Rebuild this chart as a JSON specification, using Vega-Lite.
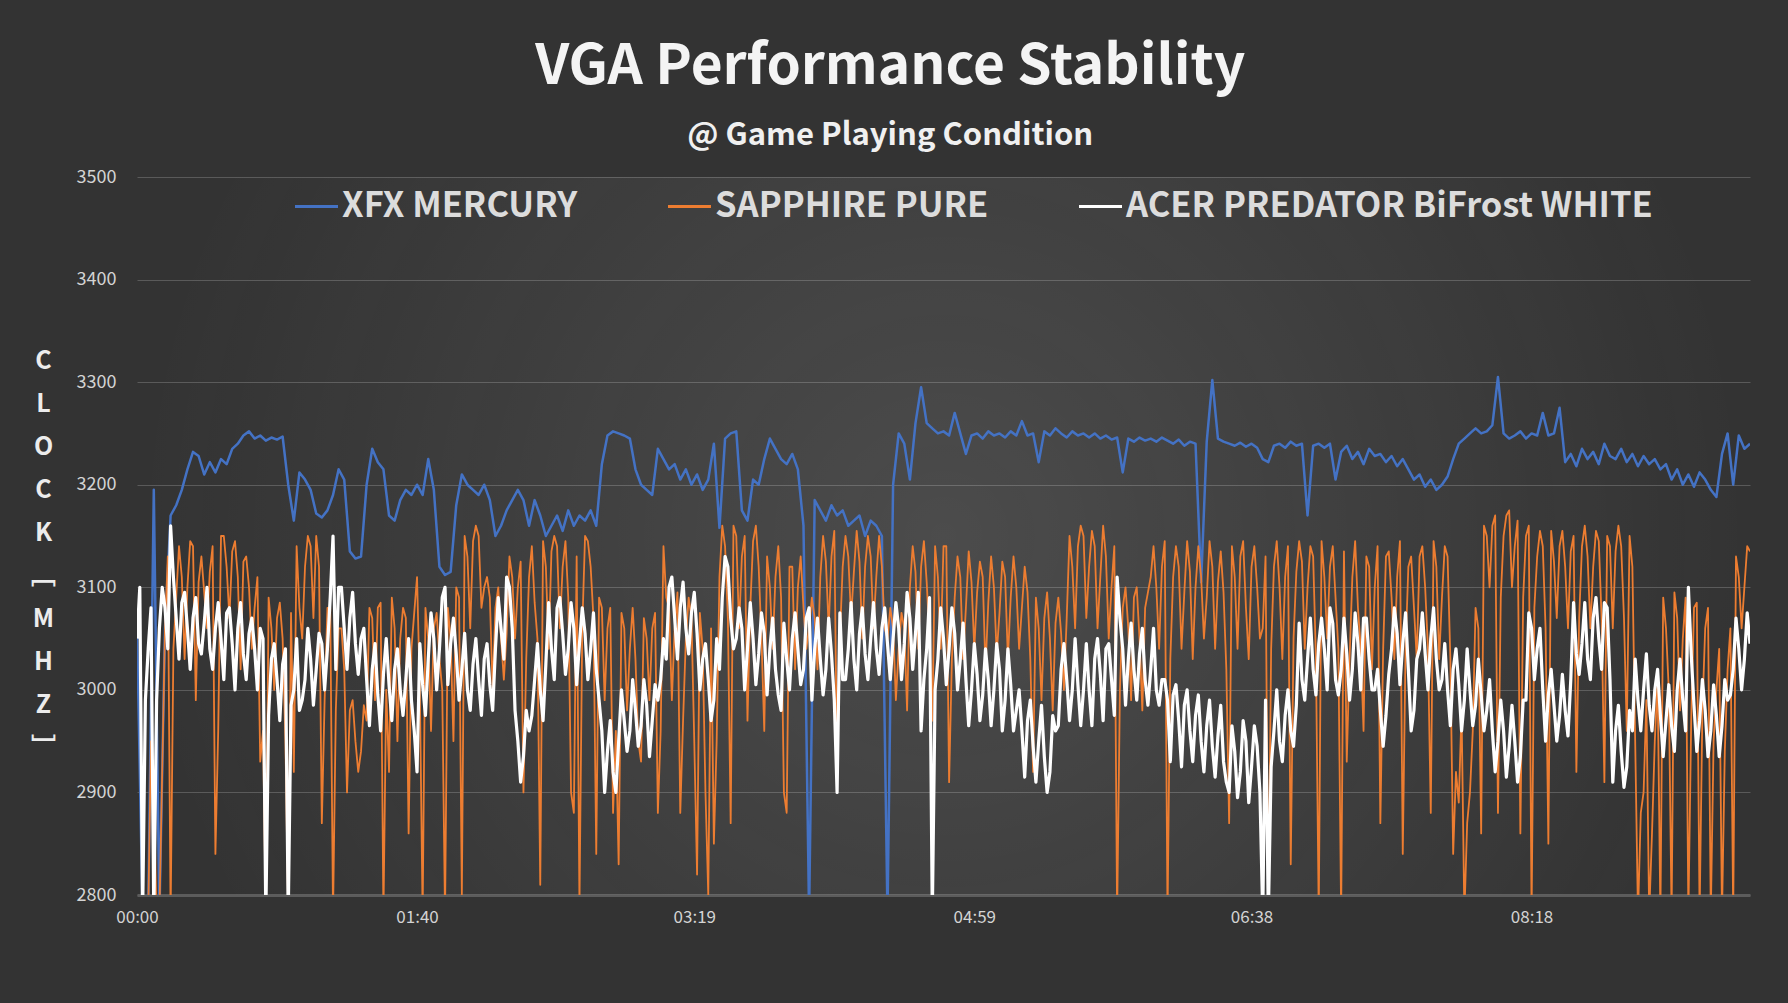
{
  "$schema": "https://vega.github.io/schema/vega-lite/v6.json",
  "width": 1613,
  "height": 718,
  "autosize": "none",
  "padding": {"left": 137, "top": 177, "right": 38, "bottom": 108},
  "background": "#333333",
  "title": {
    "text": "VGA Performance Stability",
    "subtitle": "@ Game Playing Condition",
    "anchor": "middle",
    "frame": "bounds",
    "font": "Noto Sans CJK KR",
    "fontSize": 55,
    "fontWeight": "bold",
    "color": "#f4f4f4",
    "subtitleFont": "Noto Sans CJK KR",
    "subtitleFontSize": 31,
    "subtitleFontWeight": "bold",
    "subtitleColor": "#f0f0f0",
    "subtitlePadding": 25,
    "offset": 16
  },
  "datasets": {
    "clock": [
      {"t":0,"xfx":3060,"sap":2780,"acer":3050},
      {"t":2,"xfx":2780,"sap":2780,"acer":2780},
      {"t":4,"xfx":2780,"sap":2780,"acer":3040},
      {"t":6,"xfx":3195,"sap":2900,"acer":2780},
      {"t":8,"xfx":2780,"sap":2780,"acer":3060},
      {"t":10,"xfx":3060,"sap":3060,"acer":3080},
      {"t":12,"xfx":3170,"sap":2780,"acer":3160},
      {"t":14,"xfx":3180,"sap":3090,"acer":3070},
      {"t":16,"xfx":3195,"sap":3110,"acer":3085},
      {"t":18,"xfx":3215,"sap":3100,"acer":3060},
      {"t":20,"xfx":3232,"sap":3140,"acer":3070},
      {"t":22,"xfx":3228,"sap":3105,"acer":3045},
      {"t":24,"xfx":3210,"sap":3095,"acer":3065},
      {"t":26,"xfx":3222,"sap":3115,"acer":3040},
      {"t":28,"xfx":3212,"sap":2840,"acer":3060},
      {"t":30,"xfx":3225,"sap":3150,"acer":3050},
      {"t":32,"xfx":3220,"sap":3120,"acer":3075},
      {"t":34,"xfx":3235,"sap":3135,"acer":3045},
      {"t":36,"xfx":3240,"sap":3110,"acer":3060},
      {"t":38,"xfx":3248,"sap":3125,"acer":3035},
      {"t":40,"xfx":3252,"sap":3100,"acer":3055},
      {"t":42,"xfx":3245,"sap":3080,"acer":3040},
      {"t":44,"xfx":3248,"sap":2930,"acer":3060},
      {"t":46,"xfx":3243,"sap":2780,"acer":2780},
      {"t":48,"xfx":3246,"sap":3060,"acer":3030},
      {"t":50,"xfx":3244,"sap":3070,"acer":3010},
      {"t":52,"xfx":3247,"sap":3050,"acer":3025},
      {"t":54,"xfx":3200,"sap":2780,"acer":2780},
      {"t":56,"xfx":3165,"sap":2920,"acer":3000},
      {"t":58,"xfx":3212,"sap":3080,"acer":2980},
      {"t":60,"xfx":3205,"sap":3120,"acer":3010},
      {"t":62,"xfx":3195,"sap":3140,"acer":3030},
      {"t":64,"xfx":3172,"sap":3150,"acer":3020},
      {"t":66,"xfx":3168,"sap":2870,"acer":3045},
      {"t":68,"xfx":3175,"sap":3080,"acer":3040},
      {"t":70,"xfx":3190,"sap":2780,"acer":3150},
      {"t":72,"xfx":3215,"sap":3060,"acer":3100},
      {"t":74,"xfx":3205,"sap":3020,"acer":3060},
      {"t":76,"xfx":3135,"sap":2980,"acer":3070},
      {"t":78,"xfx":3128,"sap":2950,"acer":3045},
      {"t":80,"xfx":3130,"sap":2940,"acer":3050},
      {"t":82,"xfx":3200,"sap":2970,"acer":3010},
      {"t":84,"xfx":3235,"sap":3070,"acer":3020},
      {"t":86,"xfx":3222,"sap":3080,"acer":2995},
      {"t":88,"xfx":3215,"sap":2780,"acer":3015},
      {"t":90,"xfx":3170,"sap":2920,"acer":3005},
      {"t":92,"xfx":3165,"sap":3060,"acer":3020},
      {"t":94,"xfx":3185,"sap":3050,"acer":3000},
      {"t":96,"xfx":3195,"sap":3070,"acer":3010},
      {"t":98,"xfx":3190,"sap":3040,"acer":2990},
      {"t":100,"xfx":3200,"sap":3110,"acer":2920},
      {"t":102,"xfx":3190,"sap":2780,"acer":3005},
      {"t":104,"xfx":3225,"sap":3050,"acer":3030},
      {"t":106,"xfx":3195,"sap":3060,"acer":3050},
      {"t":108,"xfx":3120,"sap":3030,"acer":3040},
      {"t":110,"xfx":3112,"sap":2780,"acer":3100},
      {"t":112,"xfx":3115,"sap":3050,"acer":3045},
      {"t":114,"xfx":3180,"sap":3100,"acer":3035},
      {"t":116,"xfx":3210,"sap":2800,"acer":3020},
      {"t":118,"xfx":3200,"sap":3130,"acer":3000},
      {"t":120,"xfx":3195,"sap":3145,"acer":3025},
      {"t":122,"xfx":3190,"sap":3150,"acer":3010},
      {"t":124,"xfx":3200,"sap":3100,"acer":3030},
      {"t":126,"xfx":3185,"sap":3090,"acer":3005},
      {"t":128,"xfx":3150,"sap":3080,"acer":3040},
      {"t":130,"xfx":3160,"sap":3050,"acer":3060},
      {"t":132,"xfx":3175,"sap":3055,"acer":3110},
      {"t":134,"xfx":3185,"sap":3110,"acer":3060},
      {"t":136,"xfx":3195,"sap":3100,"acer":2950},
      {"t":138,"xfx":3185,"sap":2900,"acer":2935},
      {"t":140,"xfx":3160,"sap":3110,"acer":2960},
      {"t":142,"xfx":3185,"sap":3085,"acer":3010},
      {"t":144,"xfx":3170,"sap":2810,"acer":3000},
      {"t":146,"xfx":3150,"sap":3120,"acer":3025},
      {"t":148,"xfx":3160,"sap":3135,"acer":3040},
      {"t":150,"xfx":3170,"sap":3140,"acer":3080},
      {"t":152,"xfx":3155,"sap":3120,"acer":3055},
      {"t":154,"xfx":3175,"sap":3090,"acer":3040},
      {"t":156,"xfx":3160,"sap":2880,"acer":3060},
      {"t":158,"xfx":3170,"sap":2790,"acer":3045},
      {"t":160,"xfx":3165,"sap":3150,"acer":3055},
      {"t":162,"xfx":3175,"sap":3120,"acer":3040},
      {"t":164,"xfx":3160,"sap":2840,"acer":3020},
      {"t":166,"xfx":3220,"sap":3080,"acer":2960},
      {"t":168,"xfx":3248,"sap":3060,"acer":2940},
      {"t":170,"xfx":3252,"sap":2880,"acer":2920},
      {"t":172,"xfx":3250,"sap":2830,"acer":2950},
      {"t":174,"xfx":3248,"sap":3060,"acer":2970},
      {"t":176,"xfx":3245,"sap":3040,"acer":2960},
      {"t":178,"xfx":3215,"sap":3030,"acer":2980},
      {"t":180,"xfx":3200,"sap":2930,"acer":2965},
      {"t":182,"xfx":3195,"sap":3050,"acer":2985},
      {"t":184,"xfx":3190,"sap":3060,"acer":2970},
      {"t":186,"xfx":3235,"sap":2880,"acer":2990},
      {"t":188,"xfx":3225,"sap":3140,"acer":3050},
      {"t":190,"xfx":3215,"sap":3080,"acer":3100},
      {"t":192,"xfx":3220,"sap":3060,"acer":3070},
      {"t":194,"xfx":3205,"sap":2880,"acer":3080},
      {"t":196,"xfx":3215,"sap":3050,"acer":3060},
      {"t":198,"xfx":3200,"sap":3070,"acer":3075},
      {"t":200,"xfx":3210,"sap":2820,"acer":3055},
      {"t":202,"xfx":3195,"sap":3040,"acer":3030},
      {"t":204,"xfx":3205,"sap":2800,"acer":3010},
      {"t":206,"xfx":3240,"sap":2850,"acer":2990},
      {"t":208,"xfx":3158,"sap":3110,"acer":3020},
      {"t":210,"xfx":3245,"sap":3140,"acer":3130},
      {"t":212,"xfx":3250,"sap":2870,"acer":3070},
      {"t":214,"xfx":3252,"sap":3150,"acer":3050},
      {"t":216,"xfx":3175,"sap":3130,"acer":3060},
      {"t":218,"xfx":3165,"sap":2970,"acer":3040},
      {"t":220,"xfx":3205,"sap":3145,"acer":3050},
      {"t":222,"xfx":3200,"sap":3120,"acer":3035},
      {"t":224,"xfx":3225,"sap":2960,"acer":3055},
      {"t":226,"xfx":3245,"sap":3100,"acer":3040},
      {"t":228,"xfx":3235,"sap":3110,"acer":3020},
      {"t":230,"xfx":3225,"sap":3090,"acer":2980},
      {"t":232,"xfx":3220,"sap":2880,"acer":3030},
      {"t":234,"xfx":3230,"sap":3120,"acer":3050},
      {"t":236,"xfx":3215,"sap":3100,"acer":3040},
      {"t":238,"xfx":3160,"sap":3080,"acer":3020},
      {"t":240,"xfx":2780,"sap":3060,"acer":3080},
      {"t":242,"xfx":3185,"sap":3070,"acer":3040},
      {"t":244,"xfx":3175,"sap":3110,"acer":3030},
      {"t":246,"xfx":3165,"sap":3125,"acer":3020},
      {"t":248,"xfx":3180,"sap":3130,"acer":3035},
      {"t":250,"xfx":3170,"sap":2920,"acer":2900},
      {"t":252,"xfx":3175,"sap":3120,"acer":3010},
      {"t":254,"xfx":3160,"sap":3130,"acer":3040},
      {"t":256,"xfx":3165,"sap":3115,"acer":3030},
      {"t":258,"xfx":3170,"sap":3125,"acer":3055},
      {"t":260,"xfx":3150,"sap":3120,"acer":3035},
      {"t":262,"xfx":3165,"sap":3130,"acer":3050},
      {"t":264,"xfx":3160,"sap":3110,"acer":3040},
      {"t":266,"xfx":3150,"sap":3120,"acer":3060},
      {"t":268,"xfx":2780,"sap":3050,"acer":3045},
      {"t":270,"xfx":3200,"sap":3060,"acer":3050},
      {"t":272,"xfx":3250,"sap":3040,"acer":3060},
      {"t":274,"xfx":3240,"sap":3060,"acer":3045},
      {"t":276,"xfx":3205,"sap":3100,"acer":3070},
      {"t":278,"xfx":3260,"sap":3115,"acer":3055},
      {"t":280,"xfx":3295,"sap":3120,"acer":2960},
      {"t":282,"xfx":3260,"sap":3105,"acer":3040},
      {"t":284,"xfx":3255,"sap":2970,"acer":2780},
      {"t":286,"xfx":3250,"sap":3110,"acer":3030},
      {"t":288,"xfx":3252,"sap":3140,"acer":3050},
      {"t":290,"xfx":3248,"sap":2910,"acer":3040},
      {"t":292,"xfx":3270,"sap":3090,"acer":3055},
      {"t":294,"xfx":3250,"sap":3110,"acer":3030},
      {"t":296,"xfx":3230,"sap":3080,"acer":3010},
      {"t":298,"xfx":3248,"sap":3105,"acer":3000},
      {"t":300,"xfx":3250,"sap":3095,"acer":3015},
      {"t":302,"xfx":3245,"sap":3110,"acer":2995},
      {"t":304,"xfx":3252,"sap":3085,"acer":3010},
      {"t":306,"xfx":3248,"sap":3100,"acer":3000},
      {"t":308,"xfx":3250,"sap":3075,"acer":3020},
      {"t":310,"xfx":3246,"sap":3110,"acer":2990},
      {"t":312,"xfx":3252,"sap":3090,"acer":3005},
      {"t":314,"xfx":3248,"sap":3100,"acer":2980},
      {"t":316,"xfx":3262,"sap":3080,"acer":2960},
      {"t":318,"xfx":3248,"sap":3095,"acer":2970},
      {"t":320,"xfx":3250,"sap":2920,"acer":2945},
      {"t":322,"xfx":3222,"sap":3060,"acer":2950},
      {"t":324,"xfx":3252,"sap":3070,"acer":2935},
      {"t":326,"xfx":3248,"sap":3050,"acer":2920},
      {"t":328,"xfx":3255,"sap":3065,"acer":2960},
      {"t":330,"xfx":3250,"sap":3055,"acer":3020},
      {"t":332,"xfx":3246,"sap":3070,"acer":3010},
      {"t":334,"xfx":3252,"sap":3120,"acer":3000},
      {"t":336,"xfx":3248,"sap":3140,"acer":3005},
      {"t":338,"xfx":3250,"sap":3150,"acer":3000},
      {"t":340,"xfx":3246,"sap":3120,"acer":3000},
      {"t":342,"xfx":3250,"sap":3140,"acer":3030},
      {"t":344,"xfx":3245,"sap":3110,"acer":3015},
      {"t":346,"xfx":3248,"sap":3130,"acer":3040},
      {"t":348,"xfx":3244,"sap":3100,"acer":3010},
      {"t":350,"xfx":3246,"sap":2780,"acer":3110},
      {"t":352,"xfx":3212,"sap":3080,"acer":3040},
      {"t":354,"xfx":3245,"sap":3060,"acer":3030},
      {"t":356,"xfx":3242,"sap":3090,"acer":3020},
      {"t":358,"xfx":3246,"sap":3050,"acer":3035},
      {"t":360,"xfx":3243,"sap":3080,"acer":3010},
      {"t":362,"xfx":3245,"sap":3110,"acer":3020},
      {"t":364,"xfx":3242,"sap":3100,"acer":3000},
      {"t":366,"xfx":3246,"sap":3120,"acer":3010},
      {"t":368,"xfx":3243,"sap":2780,"acer":2990},
      {"t":370,"xfx":3240,"sap":3110,"acer":2995},
      {"t":372,"xfx":3244,"sap":3120,"acer":2970},
      {"t":374,"xfx":3238,"sap":3095,"acer":2985},
      {"t":376,"xfx":3242,"sap":3115,"acer":2960},
      {"t":378,"xfx":3240,"sap":3100,"acer":2975},
      {"t":380,"xfx":3105,"sap":3110,"acer":2950},
      {"t":382,"xfx":3242,"sap":3090,"acer":2965},
      {"t":384,"xfx":3302,"sap":3120,"acer":2945},
      {"t":386,"xfx":3245,"sap":3105,"acer":2955},
      {"t":388,"xfx":3242,"sap":3095,"acer":2930},
      {"t":390,"xfx":3240,"sap":2870,"acer":2900},
      {"t":392,"xfx":3238,"sap":3110,"acer":2940},
      {"t":394,"xfx":3241,"sap":3130,"acer":2920},
      {"t":396,"xfx":3237,"sap":3080,"acer":2950},
      {"t":398,"xfx":3240,"sap":3120,"acer":2925},
      {"t":400,"xfx":3236,"sap":3100,"acer":2945},
      {"t":402,"xfx":3225,"sap":3060,"acer":2780},
      {"t":404,"xfx":3222,"sap":2780,"acer":2780},
      {"t":406,"xfx":3238,"sap":3120,"acer":2960},
      {"t":408,"xfx":3240,"sap":3100,"acer":2950},
      {"t":410,"xfx":3236,"sap":3110,"acer":2975},
      {"t":412,"xfx":3242,"sap":2830,"acer":2960},
      {"t":414,"xfx":3238,"sap":3115,"acer":2985},
      {"t":416,"xfx":3240,"sap":3125,"acer":3010},
      {"t":418,"xfx":3170,"sap":3100,"acer":3030},
      {"t":420,"xfx":3238,"sap":3130,"acer":3020},
      {"t":422,"xfx":3240,"sap":2780,"acer":3045},
      {"t":424,"xfx":3236,"sap":3110,"acer":3040},
      {"t":426,"xfx":3240,"sap":3120,"acer":3080},
      {"t":428,"xfx":3205,"sap":3090,"acer":3010},
      {"t":430,"xfx":3232,"sap":2780,"acer":3020},
      {"t":432,"xfx":3238,"sap":2930,"acer":3035},
      {"t":434,"xfx":3225,"sap":3110,"acer":3020},
      {"t":436,"xfx":3232,"sap":3080,"acer":3045},
      {"t":438,"xfx":3220,"sap":2960,"acer":3070},
      {"t":440,"xfx":3235,"sap":3120,"acer":3030},
      {"t":442,"xfx":3228,"sap":3100,"acer":3000},
      {"t":444,"xfx":3230,"sap":2870,"acer":2980},
      {"t":446,"xfx":3222,"sap":3130,"acer":2975},
      {"t":448,"xfx":3228,"sap":3090,"acer":3040},
      {"t":450,"xfx":3218,"sap":3110,"acer":3055},
      {"t":452,"xfx":3225,"sap":2840,"acer":3045},
      {"t":454,"xfx":3215,"sap":3120,"acer":3020},
      {"t":456,"xfx":3205,"sap":3080,"acer":2980},
      {"t":458,"xfx":3210,"sap":3130,"acer":3040},
      {"t":460,"xfx":3198,"sap":3100,"acer":3035},
      {"t":462,"xfx":3205,"sap":2880,"acer":3050},
      {"t":464,"xfx":3195,"sap":3120,"acer":3030},
      {"t":466,"xfx":3200,"sap":3090,"acer":3010},
      {"t":468,"xfx":3208,"sap":3130,"acer":3000},
      {"t":470,"xfx":3225,"sap":2840,"acer":3020},
      {"t":472,"xfx":3240,"sap":2890,"acer":3005},
      {"t":474,"xfx":3245,"sap":2780,"acer":2990},
      {"t":476,"xfx":3250,"sap":2900,"acer":3000},
      {"t":478,"xfx":3255,"sap":3080,"acer":2985},
      {"t":480,"xfx":3250,"sap":2860,"acer":2995},
      {"t":482,"xfx":3252,"sap":3150,"acer":2980},
      {"t":484,"xfx":3258,"sap":3160,"acer":2960},
      {"t":486,"xfx":3305,"sap":2880,"acer":2950},
      {"t":488,"xfx":3250,"sap":3150,"acer":2960},
      {"t":490,"xfx":3245,"sap":3175,"acer":2945},
      {"t":492,"xfx":3248,"sap":3140,"acer":2950},
      {"t":494,"xfx":3252,"sap":2860,"acer":2935},
      {"t":496,"xfx":3245,"sap":3150,"acer":2990},
      {"t":498,"xfx":3250,"sap":2780,"acer":3060},
      {"t":500,"xfx":3248,"sap":3130,"acer":3040},
      {"t":502,"xfx":3270,"sap":3140,"acer":3000},
      {"t":504,"xfx":3248,"sap":2850,"acer":2995},
      {"t":506,"xfx":3250,"sap":3125,"acer":2985},
      {"t":508,"xfx":3275,"sap":3140,"acer":2975},
      {"t":510,"xfx":3222,"sap":3120,"acer":2980},
      {"t":512,"xfx":3230,"sap":3135,"acer":3010},
      {"t":514,"xfx":3218,"sap":2920,"acer":3035},
      {"t":516,"xfx":3235,"sap":3140,"acer":3045},
      {"t":518,"xfx":3225,"sap":3130,"acer":3030},
      {"t":520,"xfx":3232,"sap":3120,"acer":3070},
      {"t":522,"xfx":3220,"sap":3145,"acer":3050},
      {"t":524,"xfx":3240,"sap":2910,"acer":3085},
      {"t":526,"xfx":3228,"sap":3140,"acer":3010},
      {"t":528,"xfx":3225,"sap":3135,"acer":2960},
      {"t":530,"xfx":3235,"sap":3140,"acer":2940},
      {"t":532,"xfx":3222,"sap":2960,"acer":2925},
      {"t":534,"xfx":3230,"sap":3120,"acer":2960},
      {"t":536,"xfx":3218,"sap":2780,"acer":2990},
      {"t":538,"xfx":3228,"sap":2900,"acer":3000},
      {"t":540,"xfx":3220,"sap":2780,"acer":2985},
      {"t":542,"xfx":3225,"sap":2950,"acer":3000},
      {"t":544,"xfx":3215,"sap":2780,"acer":2975},
      {"t":546,"xfx":3220,"sap":3060,"acer":2970},
      {"t":548,"xfx":3205,"sap":2780,"acer":2965},
      {"t":550,"xfx":3215,"sap":3070,"acer":3000},
      {"t":552,"xfx":3200,"sap":3050,"acer":2990},
      {"t":554,"xfx":3210,"sap":2780,"acer":3100},
      {"t":556,"xfx":3198,"sap":3080,"acer":2985},
      {"t":558,"xfx":3212,"sap":2780,"acer":2970},
      {"t":560,"xfx":3205,"sap":3060,"acer":2980},
      {"t":562,"xfx":3195,"sap":2780,"acer":2960},
      {"t":564,"xfx":3188,"sap":3000,"acer":2975},
      {"t":566,"xfx":3230,"sap":2780,"acer":2965},
      {"t":568,"xfx":3250,"sap":3020,"acer":2990},
      {"t":570,"xfx":3200,"sap":2780,"acer":3020},
      {"t":572,"xfx":3248,"sap":3110,"acer":3040},
      {"t":574,"xfx":3235,"sap":3100,"acer":3030},
      {"t":576,"xfx":3240,"sap":3135,"acer":3045},
      {"t":1,"sap":2780,"acer":3100},
      {"t":3,"sap":2780,"acer":2990},
      {"t":5,"sap":2950,"acer":3080},
      {"t":7,"sap":2780,"acer":2990},
      {"t":9,"sap":2920,"acer":3100},
      {"t":11,"sap":3130,"acer":3040},
      {"t":13,"sap":3040,"acer":3110},
      {"t":15,"sap":3140,"acer":3030},
      {"t":17,"sap":3030,"acer":3095},
      {"t":19,"sap":3145,"acer":3020},
      {"t":21,"sap":2990,"acer":3090},
      {"t":23,"sap":3130,"acer":3035},
      {"t":25,"sap":3060,"acer":3100},
      {"t":27,"sap":3140,"acer":3020},
      {"t":29,"sap":2960,"acer":3085},
      {"t":31,"sap":3150,"acer":3010},
      {"t":33,"sap":3070,"acer":3080},
      {"t":35,"sap":3145,"acer":3000},
      {"t":37,"sap":3020,"acer":3085},
      {"t":39,"sap":3130,"acer":3010},
      {"t":41,"sap":3040,"acer":3070},
      {"t":43,"sap":3110,"acer":3000},
      {"t":45,"sap":2960,"acer":3050},
      {"t":47,"sap":3090,"acer":2975},
      {"t":49,"sap":3000,"acer":3045},
      {"t":51,"sap":3085,"acer":2970},
      {"t":53,"sap":2950,"acer":3040},
      {"t":55,"sap":3075,"acer":2985},
      {"t":57,"sap":3140,"acer":3050},
      {"t":59,"sap":3050,"acer":2990},
      {"t":61,"sap":3150,"acer":3060},
      {"t":63,"sap":3070,"acer":2985},
      {"t":65,"sap":3120,"acer":3055},
      {"t":67,"sap":2990,"acer":3000},
      {"t":69,"sap":3080,"acer":3090},
      {"t":71,"sap":2980,"acer":3020},
      {"t":73,"sap":3060,"acer":3100},
      {"t":75,"sap":2900,"acer":3020},
      {"t":77,"sap":2990,"acer":3095},
      {"t":79,"sap":2920,"acer":3015},
      {"t":81,"sap":2985,"acer":3060},
      {"t":83,"sap":3080,"acer":2965},
      {"t":85,"sap":2990,"acer":3045},
      {"t":87,"sap":3085,"acer":2960},
      {"t":89,"sap":3000,"acer":3050},
      {"t":91,"sap":3090,"acer":2970},
      {"t":93,"sap":2950,"acer":3040},
      {"t":95,"sap":3080,"acer":2975},
      {"t":97,"sap":2860,"acer":3050},
      {"t":99,"sap":3075,"acer":2960},
      {"t":101,"sap":3000,"acer":3045},
      {"t":103,"sap":3080,"acer":2975},
      {"t":105,"sap":2960,"acer":3075},
      {"t":107,"sap":3075,"acer":3000},
      {"t":109,"sap":3000,"acer":3090},
      {"t":111,"sap":3080,"acer":3005},
      {"t":113,"sap":2950,"acer":3070},
      {"t":115,"sap":3090,"acer":2990},
      {"t":117,"sap":3150,"acer":3055},
      {"t":119,"sap":3060,"acer":2980},
      {"t":121,"sap":3160,"acer":3050},
      {"t":123,"sap":3080,"acer":2975},
      {"t":125,"sap":3110,"acer":3045},
      {"t":127,"sap":3000,"acer":2980},
      {"t":129,"sap":3100,"acer":3090},
      {"t":131,"sap":3010,"acer":3030},
      {"t":133,"sap":3130,"acer":3100},
      {"t":135,"sap":3050,"acer":2980},
      {"t":137,"sap":3125,"acer":2910},
      {"t":139,"sap":3030,"acer":2980},
      {"t":141,"sap":3140,"acer":2975},
      {"t":143,"sap":3050,"acer":3045},
      {"t":145,"sap":3145,"acer":2970},
      {"t":147,"sap":3040,"acer":3085},
      {"t":149,"sap":3150,"acer":3010},
      {"t":151,"sap":3060,"acer":3090},
      {"t":153,"sap":3145,"acer":3015},
      {"t":155,"sap":2900,"acer":3085},
      {"t":157,"sap":3130,"acer":3005},
      {"t":159,"sap":3060,"acer":3080},
      {"t":161,"sap":3145,"acer":3010},
      {"t":163,"sap":3070,"acer":3075},
      {"t":165,"sap":3090,"acer":2990},
      {"t":167,"sap":2990,"acer":2900},
      {"t":169,"sap":3080,"acer":2970},
      {"t":171,"sap":2960,"acer":2900},
      {"t":173,"sap":3075,"acer":3000},
      {"t":175,"sap":2980,"acer":2940},
      {"t":177,"sap":3080,"acer":3010},
      {"t":179,"sap":2950,"acer":2945},
      {"t":181,"sap":3070,"acer":3010},
      {"t":183,"sap":2990,"acer":2935},
      {"t":185,"sap":3075,"acer":3005},
      {"t":187,"sap":2960,"acer":3010},
      {"t":189,"sap":3090,"acer":3030},
      {"t":191,"sap":2990,"acer":3110},
      {"t":193,"sap":3095,"acer":3030},
      {"t":195,"sap":2970,"acer":3105},
      {"t":197,"sap":3090,"acer":3035},
      {"t":199,"sap":2950,"acer":3095},
      {"t":201,"sap":3075,"acer":3000},
      {"t":203,"sap":2900,"acer":3045},
      {"t":205,"sap":3060,"acer":2970},
      {"t":207,"sap":2950,"acer":3050},
      {"t":209,"sap":3160,"acer":3090},
      {"t":211,"sap":3070,"acer":3120},
      {"t":213,"sap":3160,"acer":3040},
      {"t":215,"sap":3060,"acer":3080},
      {"t":217,"sap":3150,"acer":3000},
      {"t":219,"sap":3080,"acer":3085},
      {"t":221,"sap":3160,"acer":3005},
      {"t":223,"sap":3050,"acer":3075},
      {"t":225,"sap":3130,"acer":2995},
      {"t":227,"sap":3040,"acer":3070},
      {"t":229,"sap":3140,"acer":2995},
      {"t":231,"sap":2900,"acer":3065},
      {"t":233,"sap":3120,"acer":3000},
      {"t":235,"sap":3020,"acer":3075},
      {"t":237,"sap":3130,"acer":3005},
      {"t":239,"sap":3040,"acer":3070},
      {"t":241,"sap":3090,"acer":2990},
      {"t":243,"sap":3020,"acer":3070},
      {"t":245,"sap":3150,"acer":2995},
      {"t":247,"sap":3060,"acer":3070},
      {"t":249,"sap":3155,"acer":2990},
      {"t":251,"sap":3050,"acer":3075},
      {"t":253,"sap":3150,"acer":3010},
      {"t":255,"sap":3070,"acer":3085},
      {"t":257,"sap":3155,"acer":3000},
      {"t":259,"sap":3050,"acer":3080},
      {"t":261,"sap":3150,"acer":3010},
      {"t":263,"sap":3060,"acer":3085},
      {"t":265,"sap":3150,"acer":3015},
      {"t":267,"sap":3060,"acer":3080},
      {"t":269,"sap":3080,"acer":3010},
      {"t":271,"sap":2990,"acer":3085},
      {"t":273,"sap":3075,"acer":3010},
      {"t":275,"sap":2980,"acer":3095},
      {"t":277,"sap":3140,"acer":3020},
      {"t":279,"sap":3040,"acer":3095},
      {"t":281,"sap":3145,"acer":3010},
      {"t":283,"sap":3050,"acer":3090},
      {"t":285,"sap":3140,"acer":3000},
      {"t":287,"sap":3040,"acer":3080},
      {"t":289,"sap":3140,"acer":3005},
      {"t":291,"sap":3030,"acer":3080},
      {"t":293,"sap":3130,"acer":3000},
      {"t":295,"sap":3030,"acer":3065},
      {"t":297,"sap":3135,"acer":2965},
      {"t":299,"sap":3040,"acer":3045},
      {"t":301,"sap":3125,"acer":2970},
      {"t":303,"sap":3020,"acer":3040},
      {"t":305,"sap":3130,"acer":2965},
      {"t":307,"sap":3035,"acer":3045},
      {"t":309,"sap":3125,"acer":2960},
      {"t":311,"sap":3030,"acer":3040},
      {"t":313,"sap":3130,"acer":2960},
      {"t":315,"sap":3040,"acer":3000},
      {"t":317,"sap":3120,"acer":2915},
      {"t":319,"sap":3030,"acer":2990},
      {"t":321,"sap":3090,"acer":2910},
      {"t":323,"sap":2990,"acer":2985},
      {"t":325,"sap":3095,"acer":2900},
      {"t":327,"sap":2980,"acer":2975},
      {"t":329,"sap":3090,"acer":2965},
      {"t":331,"sap":3000,"acer":3045},
      {"t":333,"sap":3150,"acer":2970},
      {"t":335,"sap":3060,"acer":3050},
      {"t":337,"sap":3160,"acer":2965},
      {"t":339,"sap":3070,"acer":3045},
      {"t":341,"sap":3155,"acer":2965},
      {"t":343,"sap":3060,"acer":3050},
      {"t":345,"sap":3160,"acer":2970},
      {"t":347,"sap":3050,"acer":3045},
      {"t":349,"sap":3140,"acer":2975},
      {"t":351,"sap":3000,"acer":3070},
      {"t":353,"sap":3100,"acer":2985},
      {"t":355,"sap":2990,"acer":3065},
      {"t":357,"sap":3100,"acer":2990},
      {"t":359,"sap":2980,"acer":3060},
      {"t":361,"sap":3095,"acer":2985},
      {"t":363,"sap":3140,"acer":3060},
      {"t":365,"sap":3040,"acer":2985},
      {"t":367,"sap":3145,"acer":3010},
      {"t":369,"sap":3030,"acer":2930},
      {"t":371,"sap":3140,"acer":3005},
      {"t":373,"sap":3040,"acer":2925},
      {"t":375,"sap":3145,"acer":3000},
      {"t":377,"sap":3030,"acer":2930},
      {"t":379,"sap":3140,"acer":2995},
      {"t":381,"sap":3050,"acer":2920},
      {"t":383,"sap":3145,"acer":2990},
      {"t":385,"sap":3040,"acer":2915},
      {"t":387,"sap":3135,"acer":2985},
      {"t":389,"sap":3020,"acer":2910},
      {"t":391,"sap":3140,"acer":2965},
      {"t":393,"sap":3040,"acer":2895},
      {"t":395,"sap":3145,"acer":2970},
      {"t":397,"sap":3030,"acer":2890},
      {"t":399,"sap":3140,"acer":2965},
      {"t":401,"sap":3050,"acer":2900},
      {"t":403,"sap":3130,"acer":2990},
      {"t":405,"sap":3040,"acer":2925},
      {"t":407,"sap":3145,"acer":3000},
      {"t":409,"sap":3030,"acer":2930},
      {"t":411,"sap":3140,"acer":3000},
      {"t":413,"sap":3050,"acer":2945},
      {"t":415,"sap":3145,"acer":3065},
      {"t":417,"sap":3040,"acer":2990},
      {"t":419,"sap":3140,"acer":3070},
      {"t":421,"sap":3030,"acer":2995},
      {"t":423,"sap":3145,"acer":3070},
      {"t":425,"sap":3050,"acer":3000},
      {"t":427,"sap":3140,"acer":3065},
      {"t":429,"sap":3040,"acer":2995},
      {"t":431,"sap":3135,"acer":3070},
      {"t":433,"sap":3030,"acer":2990},
      {"t":435,"sap":3145,"acer":3075},
      {"t":437,"sap":3040,"acer":3000},
      {"t":439,"sap":3130,"acer":3070},
      {"t":441,"sap":3020,"acer":3000},
      {"t":443,"sap":3140,"acer":3020},
      {"t":445,"sap":3040,"acer":2945},
      {"t":447,"sap":3135,"acer":3015},
      {"t":449,"sap":3030,"acer":3080},
      {"t":451,"sap":3145,"acer":3005},
      {"t":453,"sap":3040,"acer":3075},
      {"t":455,"sap":3130,"acer":2960},
      {"t":457,"sap":3030,"acer":3030},
      {"t":459,"sap":3140,"acer":3075},
      {"t":461,"sap":3040,"acer":3000},
      {"t":463,"sap":3145,"acer":3080},
      {"t":465,"sap":3030,"acer":3000},
      {"t":467,"sap":3140,"acer":3045},
      {"t":469,"sap":3030,"acer":2965},
      {"t":471,"sap":2920,"acer":3040},
      {"t":473,"sap":2980,"acer":2960},
      {"t":475,"sap":2870,"acer":3040},
      {"t":477,"sap":2960,"acer":2965},
      {"t":479,"sap":3060,"acer":3030},
      {"t":481,"sap":3160,"acer":2960},
      {"t":483,"sap":3100,"acer":3010},
      {"t":485,"sap":3170,"acer":2920},
      {"t":487,"sap":3090,"acer":2990},
      {"t":489,"sap":3170,"acer":2915},
      {"t":491,"sap":3100,"acer":2985},
      {"t":493,"sap":3165,"acer":2910},
      {"t":495,"sap":3090,"acer":2990},
      {"t":497,"sap":3160,"acer":3075},
      {"t":499,"sap":3080,"acer":3010},
      {"t":501,"sap":3155,"acer":3060},
      {"t":503,"sap":3060,"acer":2950},
      {"t":505,"sap":3155,"acer":3020},
      {"t":507,"sap":3070,"acer":2950},
      {"t":509,"sap":3155,"acer":3015},
      {"t":511,"sap":3060,"acer":2955},
      {"t":513,"sap":3150,"acer":3085},
      {"t":515,"sap":3070,"acer":3015},
      {"t":517,"sap":3160,"acer":3085},
      {"t":519,"sap":3060,"acer":3010},
      {"t":521,"sap":3155,"acer":3090},
      {"t":523,"sap":3070,"acer":3020},
      {"t":525,"sap":3150,"acer":3080},
      {"t":527,"sap":3060,"acer":2910},
      {"t":529,"sap":3160,"acer":2985},
      {"t":531,"sap":3070,"acer":2905},
      {"t":533,"sap":3150,"acer":2980},
      {"t":535,"sap":2950,"acer":3030},
      {"t":537,"sap":2880,"acer":2960},
      {"t":539,"sap":2990,"acer":3035},
      {"t":541,"sap":2860,"acer":2960},
      {"t":543,"sap":3010,"acer":3020},
      {"t":545,"sap":3090,"acer":2935},
      {"t":547,"sap":3000,"acer":3005},
      {"t":549,"sap":3095,"acer":2940},
      {"t":551,"sap":2980,"acer":3030},
      {"t":553,"sap":3090,"acer":2960},
      {"t":555,"sap":2970,"acer":3035},
      {"t":557,"sap":3085,"acer":2940},
      {"t":559,"sap":2980,"acer":3010},
      {"t":561,"sap":3080,"acer":2935},
      {"t":563,"sap":2950,"acer":3005},
      {"t":565,"sap":3040,"acer":2935},
      {"t":567,"sap":2940,"acer":3010},
      {"t":569,"sap":3060,"acer":2995},
      {"t":571,"sap":3130,"acer":3070},
      {"t":573,"sap":3060,"acer":3000},
      {"t":575,"sap":3140,"acer":3075}
    ],
    "backdrop": [{"panel": "plot"}]
  },
  "layer": [
    {
      "data": {"name": "backdrop"},
      "mark": {
        "type": "rect",
        "fill": {
          "gradient": "radial",
          "x1": 0.5, "y1": 0.5, "r1": 0,
          "x2": 0.5, "y2": 0.5, "r2": 0.5,
          "stops": [
            {"offset": 0, "color": "rgba(255,255,255,0.12)"},
            {"offset": 1, "color": "rgba(255,255,255,0)"}
          ]
        }
      }
    },
    {
      "data": {"name": "clock"},
      "transform": [
        {"fold": ["xfx", "sap", "acer"], "as": ["series", "mhz"]},
        {"filter": "isValid(datum.mhz)"}
      ],
      "encoding": {
        "x": {
          "field": "t",
          "type": "quantitative",
          "scale": {"domain": [0, 576], "nice": false, "zero": false},
          "axis": {
            "values": [0, 100, 199, 299, 398, 498],
            "labelExpr": "utcFormat(datum.value * 1000, '%M:%S')",
            "labelFlush": false,
            "title": null,
            "grid": false,
            "ticks": false,
            "domain": true,
            "domainColor": "#5c5c5c",
            "domainWidth": 3,
            "labelFont": "Noto Sans CJK KR",
            "labelFontSize": 17,
            "labelColor": "#d4d4d4",
            "labelPadding": 14
          }
        },
        "y": {
          "field": "mhz",
          "type": "quantitative",
          "scale": {"domain": [2800, 3500], "nice": false, "zero": false},
          "axis": {
            "values": [2800, 2900, 3000, 3100, 3200, 3300, 3400, 3500],
            "format": "d",
            "title": ["C", "L", "O", "C", "K", "﹇", "M", "H", "Z", "﹈"],
            "titleAngle": 0,
            "titleAlign": "center",
            "titleBaseline": "middle",
            "titleX": -94,
            "titleY": 183,
            "titleLineHeight": 43,
            "titleFont": "Noto Sans CJK KR",
            "titleFontSize": 25,
            "titleFontWeight": "bold",
            "titleColor": "#ececec",
            "grid": true,
            "gridColor": "#5a5a5a",
            "gridWidth": 1,
            "ticks": false,
            "domain": false,
            "labelFont": "Noto Sans CJK KR",
            "labelFontSize": 18,
            "labelColor": "#d4d4d4",
            "labelPadding": 21
          }
        },
        "color": {
          "field": "series",
          "type": "nominal",
          "scale": {"domain": ["xfx", "sap", "acer"], "range": ["#4472c4", "#ed7d31", "#ffffff"]},
          "legend": {
            "title": null,
            "orient": "none",
            "legendX": 156,
            "legendY": 6,
            "direction": "horizontal",
            "symbolType": "stroke",
            "symbolSize": 1850,
            "symbolStrokeWidth": 3,
            "labelExpr": "datum.label == 'xfx' ? 'XFX MERCURY' : datum.label == 'sap' ? 'SAPPHIRE PURE' : 'ACER PREDATOR BiFrost WHITE'",
            "labelFont": "Noto Sans CJK KR",
            "labelFontSize": 34.5,
            "labelFontWeight": "bold",
            "labelColor": "#dcdcdc",
            "labelOffset": 2,
            "labelLimit": 0,
            "columnPadding": 83
          }
        }
      },
      "layer": [
        {
          "transform": [{"filter": "datum.series == 'xfx'"}],
          "mark": {"type": "line", "strokeWidth": 2.5, "clip": true, "strokeJoin": "round"}
        },
        {
          "transform": [{"filter": "datum.series == 'sap'"}],
          "mark": {"type": "line", "strokeWidth": 1.8, "clip": true, "strokeJoin": "round"}
        },
        {
          "transform": [{"filter": "datum.series == 'acer'"}],
          "mark": {"type": "line", "strokeWidth": 3.2, "clip": true, "strokeJoin": "round"}
        }
      ]
    }
  ],
  "config": {
    "view": {"stroke": null}
  }
}
